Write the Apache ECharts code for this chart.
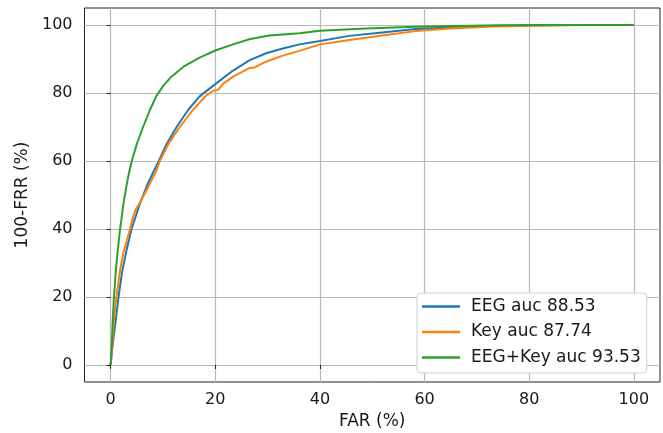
<!DOCTYPE html>
<html>
<head>
<meta charset="utf-8">
<script src="https://cdn.jsdelivr.net/npm/echarts@6/dist/echarts.min.js"></script>
<style>
  html, body { margin: 0; padding: 0; background: #fff; }
  #chart { width: 663px; height: 433px; }
</style>
</head>
<body>
<div id="chart"></div>
<script>
// ROC curves: false acceptance rate (%) vs. 100 - false rejection rate (%)
const seriesNames = ['EEG auc 88.53', 'Key auc 87.74', 'EEG+Key auc 93.53'];
const seriesColors = ['#1f77b4', '#ff7f0e', '#2ca02c'];

const eegFar  = [0, 0.3, 1.0, 1.5, 2.2, 3.0, 4.0, 5.6, 7.0, 8.4, 9.2, 10.7, 12.6, 14.8, 17.0, 20.0, 23.4, 26.5, 29.7, 32.9, 36.1, 40.0, 45.6, 51.9, 58.3, 65, 72, 80, 90, 100];
const eegRate = [0, 5.0, 13.5, 20.0, 27.5, 33.5, 40.0, 47.5, 53.0, 57.5, 60.0, 65.0, 70.0, 75.0, 79.0, 82.6, 86.6, 89.6, 91.7, 93.1, 94.3, 95.3, 96.8, 97.8, 98.8, 99.3, 99.7, 99.9, 100, 100];

const keyFar  = [0, 0.3, 0.63, 1.1, 1.8, 2.4, 3.7, 4.1, 4.7, 5.1, 5.5, 7.2, 8.8, 9.4, 11.1, 13.2, 15.7, 18.3, 19.5, 20.6, 21.4, 23.4, 26.5, 27.6, 29.7, 32.9, 36.1, 40.0, 45.6, 51.9, 58.3, 65, 72, 80, 90, 100];
const keyRate = [0, 5.4, 13.2, 20.0, 27.9, 32.8, 40.0, 42.6, 45.4, 46.5, 47.5, 52.4, 57.4, 60.0, 65.2, 70.0, 75.0, 79.3, 80.6, 81.0, 82.6, 84.8, 87.3, 87.6, 89.2, 91.0, 92.4, 94.3, 95.6, 96.9, 98.2, 99.0, 99.5, 99.8, 100, 100];

const fusedFar  = [0, 0.2, 0.4, 0.63, 1.0, 1.3, 1.8, 2.0, 2.4, 3.0, 3.5, 4.0, 5.0, 6.2, 7.5, 8.7, 10.0, 11.6, 14.0, 17.0, 20.0, 23.4, 26.5, 30.3, 36.1, 40.0, 48.8, 58.3, 65, 75, 85, 100];
const fusedRate = [0, 5.4, 13.2, 20.0, 27.9, 32.8, 40.0, 42.2, 47.0, 52.5, 56.5, 59.8, 65.0, 70.0, 75.0, 79.0, 82.0, 84.8, 87.8, 90.4, 92.5, 94.3, 95.8, 96.9, 97.6, 98.3, 99.0, 99.5, 99.7, 99.9, 100, 100];

const xTicks = [0, 20, 40, 60, 80, 100];
const yTicks = [0, 20, 40, 60, 80, 100];
const xTitle = 'FAR (%)';
const yTitle = '100-FRR (%)';

function pairs(xs, ys) {
  return xs.map((x, i) => [x, ys[i]]);
}

const FONT = 'DejaVu Sans';
const TEXT = '#1a1a1a';
const GRID = '#b8b8b8';

const chart = echarts.init(document.getElementById('chart'), null, { renderer: 'canvas' });

const lineData = [pairs(eegFar, eegRate), pairs(keyFar, keyRate), pairs(fusedFar, fusedRate)];

chart.setOption({
  animation: false,
  backgroundColor: '#ffffff',
  grid: {
    left: 84.5, right: 3, top: 8, bottom: 51,
    outerBoundsMode: 'none',
    containLabel: false,
    show: true, borderColor: '#222', borderWidth: 1, backgroundColor: 'transparent'
  },
  xAxis: {
    type: 'value', min: -5, max: 105,
    name: xTitle, nameLocation: 'middle', nameGap: 31.5,
    nameTextStyle: { fontFamily: FONT, fontSize: 17, color: TEXT },
    axisLine: { show: false },
    axisTick: { show: true, inside: false, length: 4, lineStyle: { color: '#222', width: 1 }, customValues: xTicks },
    axisLabel: { fontFamily: FONT, fontSize: 16, color: TEXT, margin: 10, customValues: xTicks },
    splitLine: { show: true, lineStyle: { color: GRID, width: 1.2 } }
  },
  yAxis: {
    type: 'value', min: -5, max: 105,
    name: yTitle, nameLocation: 'middle', nameGap: 52, nameRotate: 90,
    nameTextStyle: { fontFamily: FONT, fontSize: 17, color: TEXT },
    axisLine: { show: false },
    axisTick: { show: true, inside: false, length: 4, lineStyle: { color: '#222', width: 1 }, customValues: yTicks },
    axisLabel: { fontFamily: FONT, fontSize: 16, color: TEXT, margin: 12, customValues: yTicks },
    splitLine: { show: true, lineStyle: { color: GRID, width: 1.2 } }
  },
  legend: {
    orient: 'vertical',
    left: 417, top: 293,
    padding: [5, 6, 7, 5],
    itemGap: 8.5,
    itemWidth: 38, itemHeight: 2.5,
    icon: 'rect',
    backgroundColor: '#ffffff',
    borderColor: '#d0d0d0', borderWidth: 1, borderRadius: 4,
    textStyle: { fontFamily: FONT, fontSize: 17, color: TEXT, lineHeight: 17, padding: [0, 0, 0, 6] },
    data: seriesNames
  },
  series: seriesNames.map((name, i) => ({
    name: name,
    type: 'line',
    data: lineData[i],
    showSymbol: false,
    symbol: 'none',
    smooth: false,
    color: seriesColors[i],
    lineStyle: { color: seriesColors[i], width: 2 },
    z: 2 + i
  }))
});
</script>
</body>
</html>
